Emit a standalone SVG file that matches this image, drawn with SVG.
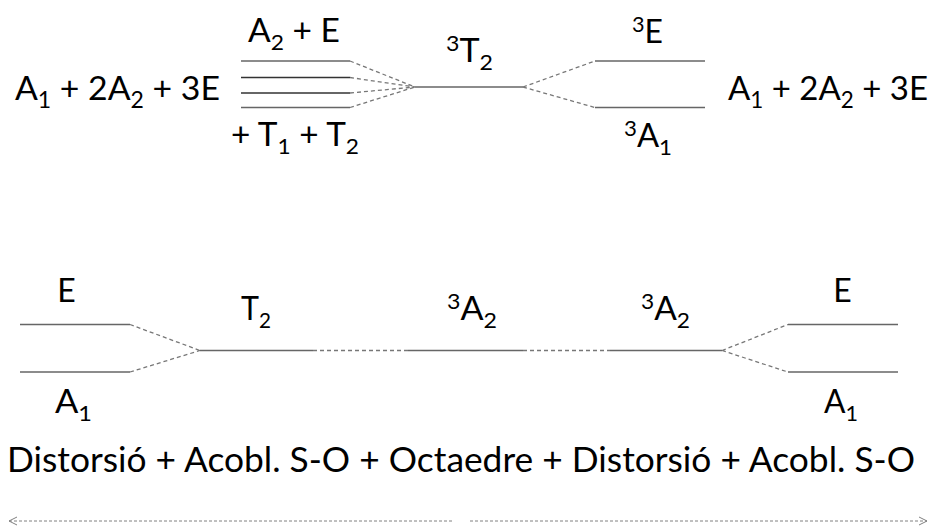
<svg xmlns="http://www.w3.org/2000/svg" width="937" height="528" viewBox="0 0 937 528">
<defs>
<style>
.t{font-family:Lato,"Liberation Sans",sans-serif;font-size:32px;fill:#000}
.big{font-size:33px}
.s{font-size:68%}
.lv{stroke:#666;stroke-width:1.5;fill:none}
.lvd{stroke:#333;stroke-width:1.5;fill:none}
.dsh{stroke:#777;stroke-width:1.3;stroke-dasharray:4 3;fill:none}
.arr{stroke:#808080;stroke-width:1;stroke-dasharray:3 2;fill:none}
</style>
<marker id="chev" viewBox="0 0 10 10" refX="9" refY="5" markerWidth="10" markerHeight="10" markerUnits="userSpaceOnUse" orient="auto">
<path d="M1,1 L9,5 L1,9" fill="none" stroke="#808080" stroke-width="1"/>
</marker>
</defs>
<rect width="937" height="528" fill="#fff"/>

<g id="connectors">
<path class="dsh" d="M350,61 L415,87 M350,77.5 L415,87 M350,93 L415,87 M350,107.5 L415,87"/>
<path class="dsh" d="M523,87 L595,61 M523,87 L595,107.5"/>
<path class="dsh" d="M130,324.5 L200,350.5 M130,372 L200,350.5"/>
<path class="dsh" d="M313,350.5 L408,350.5 M523,350.5 L610,350.5"/>
<path class="dsh" d="M722,350.5 L788,324.5 M722,350.5 L788,372"/>
<line class="arr" x1="452" y1="521" x2="9" y2="521" marker-end="url(#chev)"/>
<line class="arr" x1="470" y1="521" x2="927" y2="521" marker-end="url(#chev)"/>
</g>

<g id="top-left-levels">
<line class="lv" x1="241" y1="61" x2="350" y2="61"/>
<line class="lvd" x1="241" y1="77.5" x2="350" y2="77.5"/>
<line class="lvd" x1="241" y1="93" x2="350" y2="93"/>
<line class="lv" x1="241" y1="107.5" x2="350" y2="107.5"/>
<text class="t big" x="15" y="100" textLength="205" lengthAdjust="spacingAndGlyphs">A<tspan class="s" dy="8">1</tspan><tspan dy="-8"> + 2A</tspan><tspan class="s" dy="8">2</tspan><tspan dy="-8"> + 3E</tspan></text>
<text class="t" x="248" y="42" textLength="92" lengthAdjust="spacingAndGlyphs">A<tspan class="s" dy="8">2</tspan><tspan dy="-8"> + E</tspan></text>
<text class="t" x="231" y="146" textLength="128" lengthAdjust="spacingAndGlyphs">+ T<tspan class="s" dy="8">1</tspan><tspan dy="-8"> + T</tspan><tspan class="s" dy="8">2</tspan></text>
</g>

<g id="top-3T2">
<line class="lv" x1="415" y1="87" x2="523" y2="87"/>
<text class="t" x="446" y="62" textLength="47" lengthAdjust="spacingAndGlyphs"><tspan class="s" dy="-11">3</tspan><tspan dy="11">T</tspan><tspan class="s" dy="8">2</tspan></text>
</g>

<g id="top-right-levels">
<line class="lv" x1="595" y1="61" x2="705" y2="61"/>
<line class="lv" x1="595" y1="107.5" x2="705" y2="107.5"/>
<text class="t" x="632" y="43" textLength="31" lengthAdjust="spacingAndGlyphs"><tspan class="s" dy="-11">3</tspan><tspan dy="11">E</tspan></text>
<text class="t" x="624" y="147" textLength="48" lengthAdjust="spacingAndGlyphs"><tspan class="s" dy="-11">3</tspan><tspan dy="11">A</tspan><tspan class="s" dy="8">1</tspan></text>
<text class="t big" x="728" y="100" textLength="200" lengthAdjust="spacingAndGlyphs">A<tspan class="s" dy="8">1</tspan><tspan dy="-8"> + 2A</tspan><tspan class="s" dy="8">2</tspan><tspan dy="-8"> + 3E</tspan></text>
</g>

<g id="bottom-left-levels">
<line class="lv" x1="20" y1="324.5" x2="130" y2="324.5"/>
<line class="lv" x1="20" y1="372" x2="130" y2="372"/>
<text class="t" x="66.5" y="302" text-anchor="middle">E</text>
<text class="t" x="55" y="413" textLength="37" lengthAdjust="spacingAndGlyphs">A<tspan class="s" dy="8">1</tspan></text>
</g>

<g id="bottom-T2">
<line class="lv" x1="200" y1="350.5" x2="313" y2="350.5"/>
<text class="t" x="241" y="320" textLength="30" lengthAdjust="spacingAndGlyphs">T<tspan class="s" dy="8">2</tspan></text>
</g>

<g id="bottom-3A2-mid">
<line class="lv" x1="408" y1="350.5" x2="523" y2="350.5"/>
<text class="t" x="447" y="320" textLength="50" lengthAdjust="spacingAndGlyphs"><tspan class="s" dy="-11">3</tspan><tspan dy="11">A</tspan><tspan class="s" dy="8">2</tspan></text>
</g>

<g id="bottom-3A2-right">
<line class="lv" x1="610" y1="350.5" x2="722" y2="350.5"/>
<text class="t" x="641" y="320" textLength="49" lengthAdjust="spacingAndGlyphs"><tspan class="s" dy="-11">3</tspan><tspan dy="11">A</tspan><tspan class="s" dy="8">2</tspan></text>
</g>

<g id="bottom-right-levels">
<line class="lv" x1="788" y1="324.5" x2="898" y2="324.5"/>
<line class="lv" x1="788" y1="372" x2="898" y2="372"/>
<text class="t" x="842.5" y="302" text-anchor="middle">E</text>
<text class="t" x="824" y="413" textLength="34" lengthAdjust="spacingAndGlyphs">A<tspan class="s" dy="8">1</tspan></text>
</g>

<g id="caption">
<text class="t" x="7" y="472" style="font-size:35px" textLength="908" lengthAdjust="spacingAndGlyphs">Distorsió + Acobl. S-O + Octaedre + Distorsió + Acobl. S-O</text>
</g>
</svg>
